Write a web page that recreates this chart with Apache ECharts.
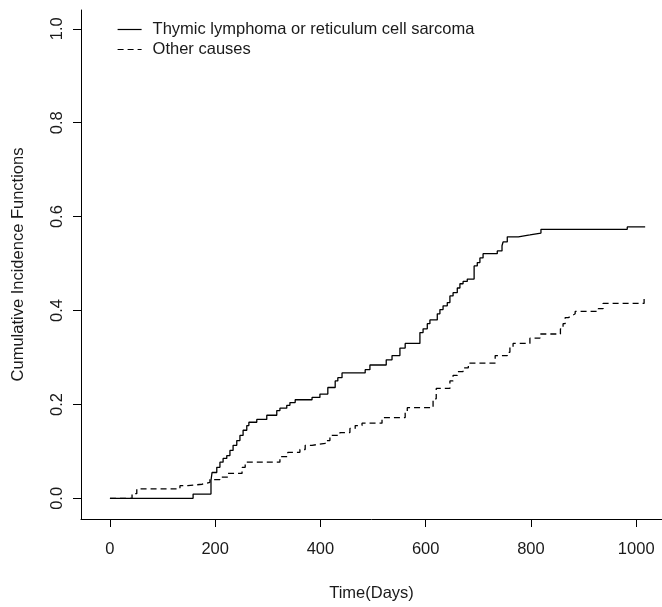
<!DOCTYPE html>
<html>
<head>
<meta charset="utf-8">
<script src="https://cdn.jsdelivr.net/npm/echarts@6/dist/echarts.min.js"></script>
<style>
  html, body { margin: 0; padding: 0; background: #fff; }
  #chart { width: 662px; height: 607px; }
</style>
</head>
<body>
<div id="chart"></div>
<script>
// cumulative incidence
var lymphomaDays = [0, 158, 192, 194, 203, 209, 215, 222, 228, 234, 241, 247, 253, 260, 264, 279, 298, 317, 323, 336, 342, 352, 384, 399, 414, 428, 433, 441, 485, 494, 525, 536, 551, 561, 589, 595, 603, 608, 622, 627, 633, 641, 646, 652, 660, 665, 671, 679, 692, 698, 703, 709, 736, 745, 747, 755, 776, 798, 819, 983, 1017];
var lymphomaCif = [0, 0.009, 0.038, 0.055, 0.066, 0.077, 0.085, 0.091, 0.102, 0.113, 0.123, 0.134, 0.145, 0.155, 0.162, 0.168, 0.177, 0.187, 0.192, 0.198, 0.204, 0.21, 0.215, 0.222, 0.236, 0.25, 0.257, 0.267, 0.274, 0.284, 0.295, 0.304, 0.32, 0.33, 0.353, 0.361, 0.372, 0.38, 0.393, 0.402, 0.41, 0.417, 0.431, 0.438, 0.448, 0.457, 0.462, 0.467, 0.495, 0.502, 0.512, 0.521, 0.527, 0.538, 0.546, 0.557, 0.561, 0.565, 0.573, 0.578, 0.578];

var otherDays = [0, 42, 51, 133, 148, 175, 190, 209, 224, 251, 257, 323, 338, 361, 371, 384, 409, 418, 437, 456, 466, 479, 517, 561, 565, 614, 620, 646, 652, 660, 671, 681, 732, 755, 760, 766, 798, 817, 856, 861, 865, 871, 878, 884, 928, 937, 1015, 1017];
var otherCif = [0, 0.01, 0.02, 0.027, 0.03, 0.034, 0.04, 0.045, 0.053, 0.066, 0.077, 0.089, 0.098, 0.104, 0.113, 0.117, 0.123, 0.134, 0.14, 0.149, 0.155, 0.16, 0.172, 0.183, 0.193, 0.212, 0.234, 0.25, 0.262, 0.27, 0.278, 0.288, 0.304, 0.311, 0.322, 0.33, 0.341, 0.35, 0.361, 0.372, 0.385, 0.389, 0.393, 0.398, 0.404, 0.415, 0.427, 0.427];

var seriesNames = ["Thymic lymphoma or reticulum cell sarcoma", "Other causes"];
var xTicks = [0, 200, 400, 600, 800, 1000];
var yTicks = [0, 0.2, 0.4, 0.6, 0.8, 1.0];

function pairs(xs, ys) {
  return xs.map(function (x, i) { return [x, ys[i]]; });
}

var font = "'Liberation Sans', Arial, sans-serif";
var ink = "#1a1a1a";

var chart = echarts.init(document.getElementById("chart"));
chart.setOption({
  animation: false,
  backgroundColor: "#fff",
  grid: { left: 81, right: 0, top: 10, bottom: 88, containLabel: false },
  legend: {
    orient: "vertical",
    left: 117,
    top: 21,
    padding: 0,
    itemWidth: 24,
    itemHeight: 14,
    itemGap: 3,
    data: seriesNames,
    itemStyle: { opacity: 0 },
    lineStyle: { width: 1.2 },
    textStyle: { fontFamily: font, fontSize: 16.5, color: ink, padding: [0, 0, 0, 6] }
  },
  xAxis: {
    type: "value",
    min: -55,
    max: 1049,
    name: "Time(Days)",
    nameLocation: "middle",
    nameGap: 66,
    nameTextStyle: { fontFamily: font, fontSize: 16.5, color: ink },
    axisLine: { show: true, onZero: false, lineStyle: { color: "#000", width: 1 } },
    axisTick: { show: true, length: 8, customValues: xTicks, lineStyle: { color: "#000" } },
    axisLabel: {
      customValues: xTicks,
      margin: 22,
      fontFamily: font,
      fontSize: 16.5,
      color: ink,
      formatter: function (v) { return String(v); }
    },
    splitLine: { show: false }
  },
  yAxis: {
    type: "value",
    min: -0.044,
    max: 1.04,
    name: "Cumulative Incidence Functions",
    nameLocation: "middle",
    nameGap: 54,
    nameTextStyle: { fontFamily: font, fontSize: 16.5, color: ink },
    axisLine: { show: true, onZero: false, lineStyle: { color: "#000", width: 1 } },
    axisTick: { show: true, length: 8, customValues: yTicks, lineStyle: { color: "#000" } },
    axisLabel: {
      customValues: yTicks,
      rotate: 90,
      margin: 15,
      fontFamily: font,
      fontSize: 16.5,
      color: ink,
      formatter: function (v) { return v.toFixed(1); }
    },
    splitLine: { show: false }
  },
  series: [
    {
      name: seriesNames[0],
      type: "line",
      step: "end",
      symbol: "none",
      data: pairs(lymphomaDays, lymphomaCif),
      lineStyle: { color: "#000", width: 1.3, type: "solid" },
      itemStyle: { color: "#000" }
    },
    {
      name: seriesNames[1],
      type: "line",
      step: "end",
      symbol: "none",
      data: pairs(otherDays, otherCif),
      lineStyle: { color: "#000", width: 1.3, type: [6, 4] },
      itemStyle: { color: "#000" }
    }
  ]
});
</script>
</body>
</html>
